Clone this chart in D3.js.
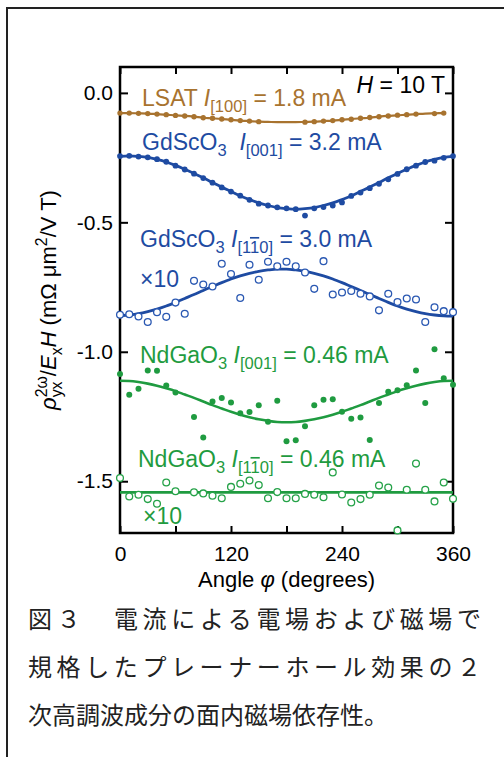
<!DOCTYPE html>
<html>
<head>
<meta charset="utf-8">
<script src="https://cdn.jsdelivr.net/npm/d3@7"></script>
<style>
body { margin: 0; background: #fff; }
svg { display: block; }
text { font-family: "Liberation Sans", Arial, sans-serif; white-space: pre; }
.cap { font-family: "Noto Sans CJK JP", sans-serif; font-size: 24px; fill: #222; }
</style>
</head>
<body>
<div id="chart"></div>
<script>
// angle of the in-plane field, degrees
const angles = [0, 10, 20, 30, 40, 50, 60, 70, 80, 90, 100, 110, 120, 130, 140, 150, 160, 170, 180,
    190, 200, 210, 220, 230, 240, 250, 260, 270, 280, 290, 300, 310, 320, 330, 340, 350, 360];

// LSAT I[100] = 1.8 mA (null = no point drawn)
const lsatPts = [-0.078, -0.078, -0.079, -0.080, -0.082, -0.084, -0.087, -0.089, -0.092, -0.096, -0.098, -0.101,
    -0.104, -0.107, -0.109, -0.111, null, null, null, null, -0.113, -0.111, -0.109, -0.107, -0.104, -0.102,
    -0.098, -0.095, -0.092, -0.089, -0.086, -0.084, -0.082, null, -0.080, -0.078, null];
const lsatFit = [-0.078, -0.078, -0.079, -0.080, -0.082, -0.084, -0.087, -0.089, -0.092, -0.096, -0.098, -0.101,
    -0.104, -0.107, -0.109, -0.111, -0.112, -0.113, -0.113, -0.113, -0.112, -0.111, -0.109, -0.107, -0.104, -0.101,
    -0.098, -0.096, -0.092, -0.089, -0.087, -0.084, -0.082, -0.080, -0.079, -0.078];

// GdScO3 I[001] = 3.2 mA
const gso001Pts = [-0.244, -0.243, -0.246, -0.249, -0.256, -0.266, -0.281, -0.296, -0.312, -0.329, -0.347, -0.365,
    -0.381, -0.397, -0.413, -0.428, -0.435, -0.442, -0.446, -0.449, -0.474, -0.446, -0.441, -0.435, -0.423, -0.398,
    -0.385, -0.368, -0.351, -0.334, -0.313, -0.295, -0.281, -0.267, -0.262, -0.251, -0.244];
const gso001Fit = [-0.245, -0.243, -0.245, -0.249, -0.257, -0.267, -0.280, -0.295, -0.311, -0.328, -0.346, -0.364,
    -0.381, -0.398, -0.412, -0.425, -0.435, -0.443, -0.447, -0.449, -0.447, -0.443, -0.435, -0.425, -0.412, -0.398,
    -0.381, -0.364, -0.346, -0.328, -0.311, -0.295, -0.280, -0.267, -0.257, -0.249, -0.245];

// GdScO3 I[1-10] = 3.0 mA, x10
const gso110Pts = [-0.857, -0.855, -0.864, -0.885, -0.847, -0.865, -0.810, -0.853, -0.726, -0.740, -0.748, -0.660,
    -0.700, -0.792, -0.664, -0.722, -0.652, -0.670, -0.652, -0.670, -0.694, -0.757, -0.650, -0.779, -0.771, -0.765,
    -0.776, -0.786, -0.840, -0.776, -0.808, -0.794, -0.798, -0.885, -0.828, -0.843, -0.847];
const gso110Fit = [-0.861, -0.858, -0.853, -0.845, -0.835, -0.823, -0.809, -0.794, -0.779, -0.763, -0.748, -0.733,
    -0.719, -0.707, -0.697, -0.689, -0.684, -0.681, -0.681, -0.684, -0.689, -0.697, -0.707, -0.719, -0.733, -0.748,
    -0.763, -0.779, -0.794, -0.809, -0.823, -0.835, -0.845, -0.853, -0.858, -0.861, -0.862];

// NdGaO3 I[001] = 0.46 mA
const ngo001Pts = [-1.086, -1.166, -1.143, -1.072, -1.073, -1.130, -1.157, null, -1.252, -1.331, -1.192, -1.179,
    -1.196, -1.237, -1.233, -1.207, -1.270, -1.189, -1.346, -1.342, -1.288, -1.207, -1.185, -1.183, -1.232, -1.259,
    -1.254, -1.341, -1.198, -1.154, -1.149, -1.129, -1.072, -1.198, -0.990, -1.102, -1.127];
const ngo001Fit = [-1.112, -1.113, -1.117, -1.123, -1.131, -1.141, -1.152, -1.165, -1.178, -1.192, -1.206, -1.219,
    -1.232, -1.243, -1.253, -1.261, -1.267, -1.271, -1.272, -1.271, -1.267, -1.261, -1.253, -1.243, -1.232, -1.219,
    -1.206, -1.192, -1.178, -1.165, -1.152, -1.141, -1.131, -1.123, -1.117, -1.113, -1.112];

// NdGaO3 I[1-10] = 0.46 mA, x10
const ngo110Pts = [-1.488, -1.559, -1.552, -1.569, -1.587, -1.505, -1.539, null, -1.543, -1.547, -1.556, -1.566,
    -1.522, -1.510, -1.497, -1.515, -1.566, -1.542, -1.566, -1.566, -1.549, -1.552, -1.562, -1.466, -1.551, -1.582,
    -1.569, -1.552, -1.517, -1.524, -1.690, -1.533, -1.432, -1.533, -1.578, -1.505, -1.568];
const ngo110FitAngles = [0, 360];
const ngo110Fit = [-1.543, -1.543];

const xTicks = [0, 60, 120, 180, 240, 300, 360];
const xLabels = [0, 120, 240, 360];
const yTicks = [0, -0.5, -1.0, -1.5];

const captionLines = ['図３　電流による電場および磁場で', '規格したプレーナーホール効果の２', '次高調波成分の面内磁場依存性。'];

const brown = '#a8732f', blue = '#1e4ba2', green = '#1f9b40';

const W = 504, H = 757;
const m = { left: 120, top: 67, right: 453, bottom: 533 };

const svg = d3.select('#chart').append('svg').attr('width', W).attr('height', H);

// outer box of the figure
svg.append('rect')
    .attr('x', 7).attr('y', 8).attr('width', 520).attr('height', 780)
    .attr('fill', 'none').attr('stroke', '#222').attr('stroke-width', 2);

const x = d3.scaleLinear().domain([0, 360]).range([m.left, m.right]);
const y = d3.scaleLinear().domain([-1.7, 0.1]).range([m.bottom, m.top]);

// axes: ticks pointing inward on all four sides
const axisStyle = g => {
    g.select('.domain').remove();
    g.selectAll('.tick line').attr('stroke', '#000').attr('stroke-width', 2);
    g.selectAll('.tick text').attr('fill', '#000').style('font-size', '21px')
        .style('font-family', '"Liberation Sans", Arial, sans-serif');
};

svg.append('g').attr('transform', `translate(0,${m.bottom})`)
    .call(d3.axisBottom(x).tickValues(xTicks).tickSize(-7).tickPadding(9)
        .tickFormat(d => xLabels.includes(d) ? d : ''))
    .call(axisStyle)
    .call(g => g.selectAll('.tick text').attr('dy', '0.9em'));

svg.append('g').attr('transform', `translate(0,${m.top})`)
    .call(d3.axisTop(x).tickValues(xTicks).tickSize(-7).tickFormat(''))
    .call(axisStyle);

svg.append('g').attr('transform', `translate(${m.left},0)`)
    .call(d3.axisLeft(y).tickValues(yTicks).tickSize(-8).tickPadding(7)
        .tickFormat(d => d.toFixed(1)))
    .call(axisStyle);

svg.append('g').attr('transform', `translate(${m.right},0)`)
    .call(d3.axisRight(y).tickValues(yTicks).tickSize(-8).tickFormat(''))
    .call(axisStyle);

svg.append('rect')
    .attr('x', m.left).attr('y', m.top)
    .attr('width', m.right - m.left).attr('height', m.bottom - m.top)
    .attr('fill', 'none').attr('stroke', '#000').attr('stroke-width', 2.5);

// fitted curves
const line = d3.line().x(d => x(d[0])).y(d => y(d[1])).curve(d3.curveMonotoneX);
const fits = [
    [angles, lsatFit, brown, 2.2],
    [angles, gso001Fit, blue, 2.8],
    [angles, gso110Fit, blue, 2.8],
    [angles, ngo001Fit, green, 2.6],
    [ngo110FitAngles, ngo110Fit, green, 2.6]
];
fits.forEach(([a, v, c, w]) => {
    svg.append('path')
        .datum(v.map((d, i) => [a[i], d]))
        .attr('d', line)
        .attr('fill', 'none').attr('stroke', c).attr('stroke-width', w);
});

// data points
function dots(vals, color, open, r) {
    const pts = vals.map((d, i) => [angles[i], d]).filter(d => d[1] !== null);
    svg.append('g').selectAll('circle').data(pts).enter()
        .append('circle')
        .attr('cx', d => x(d[0]))
        .attr('cy', d => y(d[1]))
        .attr('r', r)
        .attr('fill', open ? '#fff' : color)
        .attr('stroke', open ? color : 'none')
        .attr('stroke-width', 1.3);
}
dots(lsatPts, brown, false, 2.7);
dots(gso001Pts, blue, false, 2.9);
dots(gso110Pts, '#2a58b2', true, 3.4);
dots(ngo001Pts, green, false, 3);
dots(ngo110Pts, '#25a248', true, 3.4);

// text with sub/superscripts, built from tspans
function rich(parent, px, py, fs, color, parts, anchor) {
    const t = parent.append('text')
        .attr('x', px).attr('y', py)
        .attr('text-anchor', anchor || 'start')
        .attr('fill', color)
        .style('font-size', fs + 'px');
    let shift = 0;
    parts.forEach(p => {
        const [s, k] = p;
        const small = k === 'sub' || k === 'bar' || k === 'sup';
        const target = (k === 'sub' || k === 'bar') ? fs * 0.26 : (k === 'sup' ? -fs * 0.4 : 0);
        const ts = t.append('tspan').text(s).attr('dy', target - shift);
        shift = target;
        if (small) ts.style('font-size', (fs * 0.72) + 'px');
        if (k === 'i') ts.style('font-style', 'italic');
        if (k === 'bar') ts.style('text-decoration', 'overline');
        if (p[2] !== undefined) ts.attr('dx', p[2]);
    });
    return t;
}

const fsL = 23;
rich(svg, 142, 106, fsL, brown, [['LSAT '], ['I', 'i'], ['[100]', 'sub'], [' = 1.8 mA']]);
rich(svg, 445, 93, fsL, '#000', [['H', 'i'], [' = 10 T']], 'end');
rich(svg, 142, 150, fsL, blue, [['GdScO'], ['3', 'sub'], ['  '], ['I', 'i'], ['[001]', 'sub'], [' = 3.2 mA']]);
rich(svg, 140, 247, fsL, blue, [['GdScO'], ['3', 'sub'], [' '], ['I', 'i'], ['[1', 'sub'], ['1', 'bar'], ['0]', 'sub'], [' = 3.0 mA']]);
rich(svg, 140, 287, fsL, blue, [['×10']]);
rich(svg, 140, 363, fsL, green, [['NdGaO'], ['3', 'sub'], [' '], ['I', 'i'], ['[001]', 'sub'], [' = 0.46 mA']]);
rich(svg, 138, 467, fsL, green, [['NdGaO'], ['3', 'sub'], [' '], ['I', 'i'], ['[1', 'sub'], ['1', 'bar'], ['0]', 'sub'], [' = 0.46 mA']]);
rich(svg, 143, 524, fsL, green, [['×10']]);

// axis titles
rich(svg, (m.left + m.right) / 2, 587, 22, '#000', [['Angle '], ['φ', 'i'], [' (degrees)']], 'middle');

const yt = svg.append('g').attr('transform', `translate(56,${(m.top + m.bottom) / 2}) rotate(-90)`);
const ytText = rich(yt, 0, 0, 22, '#000', [['ρ', 'i'], ['2ω', 'sup'], ['yx', 'sub'], ['/'], ['E', 'i'], ['x', 'sub'],
    ['H', 'i'], [' (mΩ μm'], ['2', 'sup'], ['/V T)']], 'middle');
// stack the yx subscript under the 2ω superscript
const spans = ytText.selectAll('tspan').nodes();
const supW = spans[1].getComputedTextLength(), subW = spans[2].getComputedTextLength();
d3.select(spans[2]).attr('dx', -supW);
d3.select(spans[3]).attr('dx', Math.max(0, supW - subW));

// caption, first two lines justified
const capLeft = 28, capRight = 481;
captionLines.forEach((s, i) => {
    const t = svg.append('text').attr('class', 'cap')
        .attr('x', capLeft).attr('y', 628 + i * 48)
        .text(s);
    if (i < 2) t.attr('textLength', capRight - capLeft).attr('lengthAdjust', 'spacing');
});
</script>
</body>
</html>
